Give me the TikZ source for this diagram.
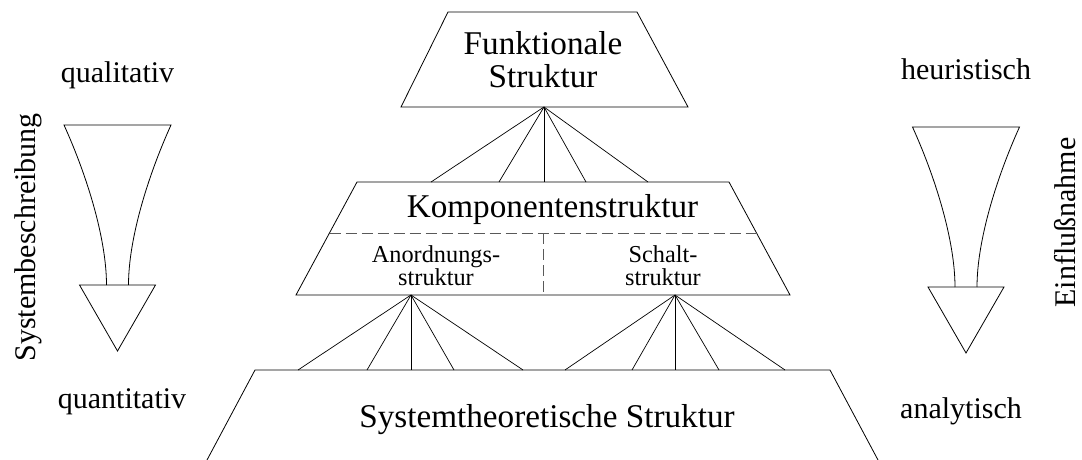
\documentclass[tikz,border=0pt]{standalone}
\usepackage{fontspec}
\setmainfont{Liberation Serif}
\begin{document}
\begin{tikzpicture}[x=1pt,y=-1pt,
  edge/.style={line width=0.8pt, line join=miter},
  fan/.style={line width=0.7pt},
  sep/.style={line width=0.8pt, black!65, dash pattern=on 11pt off 5pt},
  big/.style={font=\fontsize{33.2}{33.2}\selectfont, inner sep=0pt, anchor=base},
  small/.style={font=\fontsize{24.3}{24.3}\selectfont, inner sep=0pt, anchor=base},
  side/.style={font=\fontsize{30}{30}\selectfont, inner sep=0pt, anchor=base},
  funnel/.pic={
    \draw[edge] (-11,160) .. controls (-11,115) and (-29.5,53) .. (-53.5,0)
      -- (53.5,0) .. controls (29.5,53) and (11,115) .. (11,160);
    \draw[edge] (-38,160) -- (38,160) -- (0,226) -- cycle;
  },
]
\useasboundingbox (0,0) rectangle (1082,460);

% functional structure
\draw[edge] (448,12) -- (637,12) -- (688,107) -- (401,107) -- cycle;
\node[big] (fun1) at (543,55) {Funktionale};
\node[big] (fun2) at (543,88) {Struktur};
\coordinate (funApex) at (544,107);

% component structure with its two parts
\draw[edge] (357,182) -- (729,182) -- (790,295) -- (296,295) -- cycle;
\draw[sep] (329.5,233) -- (756.5,233);
\draw[sep] (543,233) -- (543,295);
\node[big] (komp) at (552.5,217) {Komponentenstruktur};
\node[small] (anord1) at (436,262) {Anordnungs-};
\node[small] (anord2) at (436,285) {struktur};
\node[small] (schalt1) at (663,262) {Schalt-};
\node[small] (schalt2) at (663,285) {struktur};
\coordinate (anordApex) at (411,295);
\coordinate (schaltApex) at (675,295);

% system-theoretic structure
\draw[edge] (207,460) -- (255,370) -- (830,370) -- (878,460);
\node[big] (sys) at (547,427) {Systemtheoretische Struktur};

% fan-out points
\coordinate (k1) at (431,182);
\coordinate (k2) at (499,182);
\coordinate (k3) at (544,182);
\coordinate (k4) at (586,182);
\coordinate (k5) at (648,182);
\coordinate (a1) at (298,370);
\coordinate (a2) at (367,370);
\coordinate (a3) at (411,370);
\coordinate (a4) at (454,370);
\coordinate (a5) at (523,370);
\coordinate (s1) at (565,370);
\coordinate (s2) at (632,370);
\coordinate (s3) at (675,370);
\coordinate (s4) at (719,370);
\coordinate (s5) at (785,370);

\foreach \t in {k1,k2,k3,k4,k5} \draw[fan] (funApex) -- (\t);
\foreach \t in {a1,a2,a3,a4,a5} \draw[fan] (anordApex) -- (\t);
\foreach \t in {s1,s2,s3,s4,s5} \draw[fan] (schaltApex) -- (\t);

% left scale: description
\node[side] (qual) at (117.5,83) {qualitativ};
\node[side] (quant) at (122,408) {quantitativ};
\pic (leftFunnel) at (117.5,125) {funnel};
\node[side, rotate=90] (sysb) at (35,237.5) {Systembeschreibung};

% right scale: influence
\node[side] (heur) at (966,80) {heuristisch};
\node[side] (anal) at (961,418) {analytisch};
\pic (rightFunnel) at (966,127) {funnel};
\node[side, rotate=90] (einfl) at (1075,222.5) {Einflußnahme};
\end{tikzpicture}
\end{document}
